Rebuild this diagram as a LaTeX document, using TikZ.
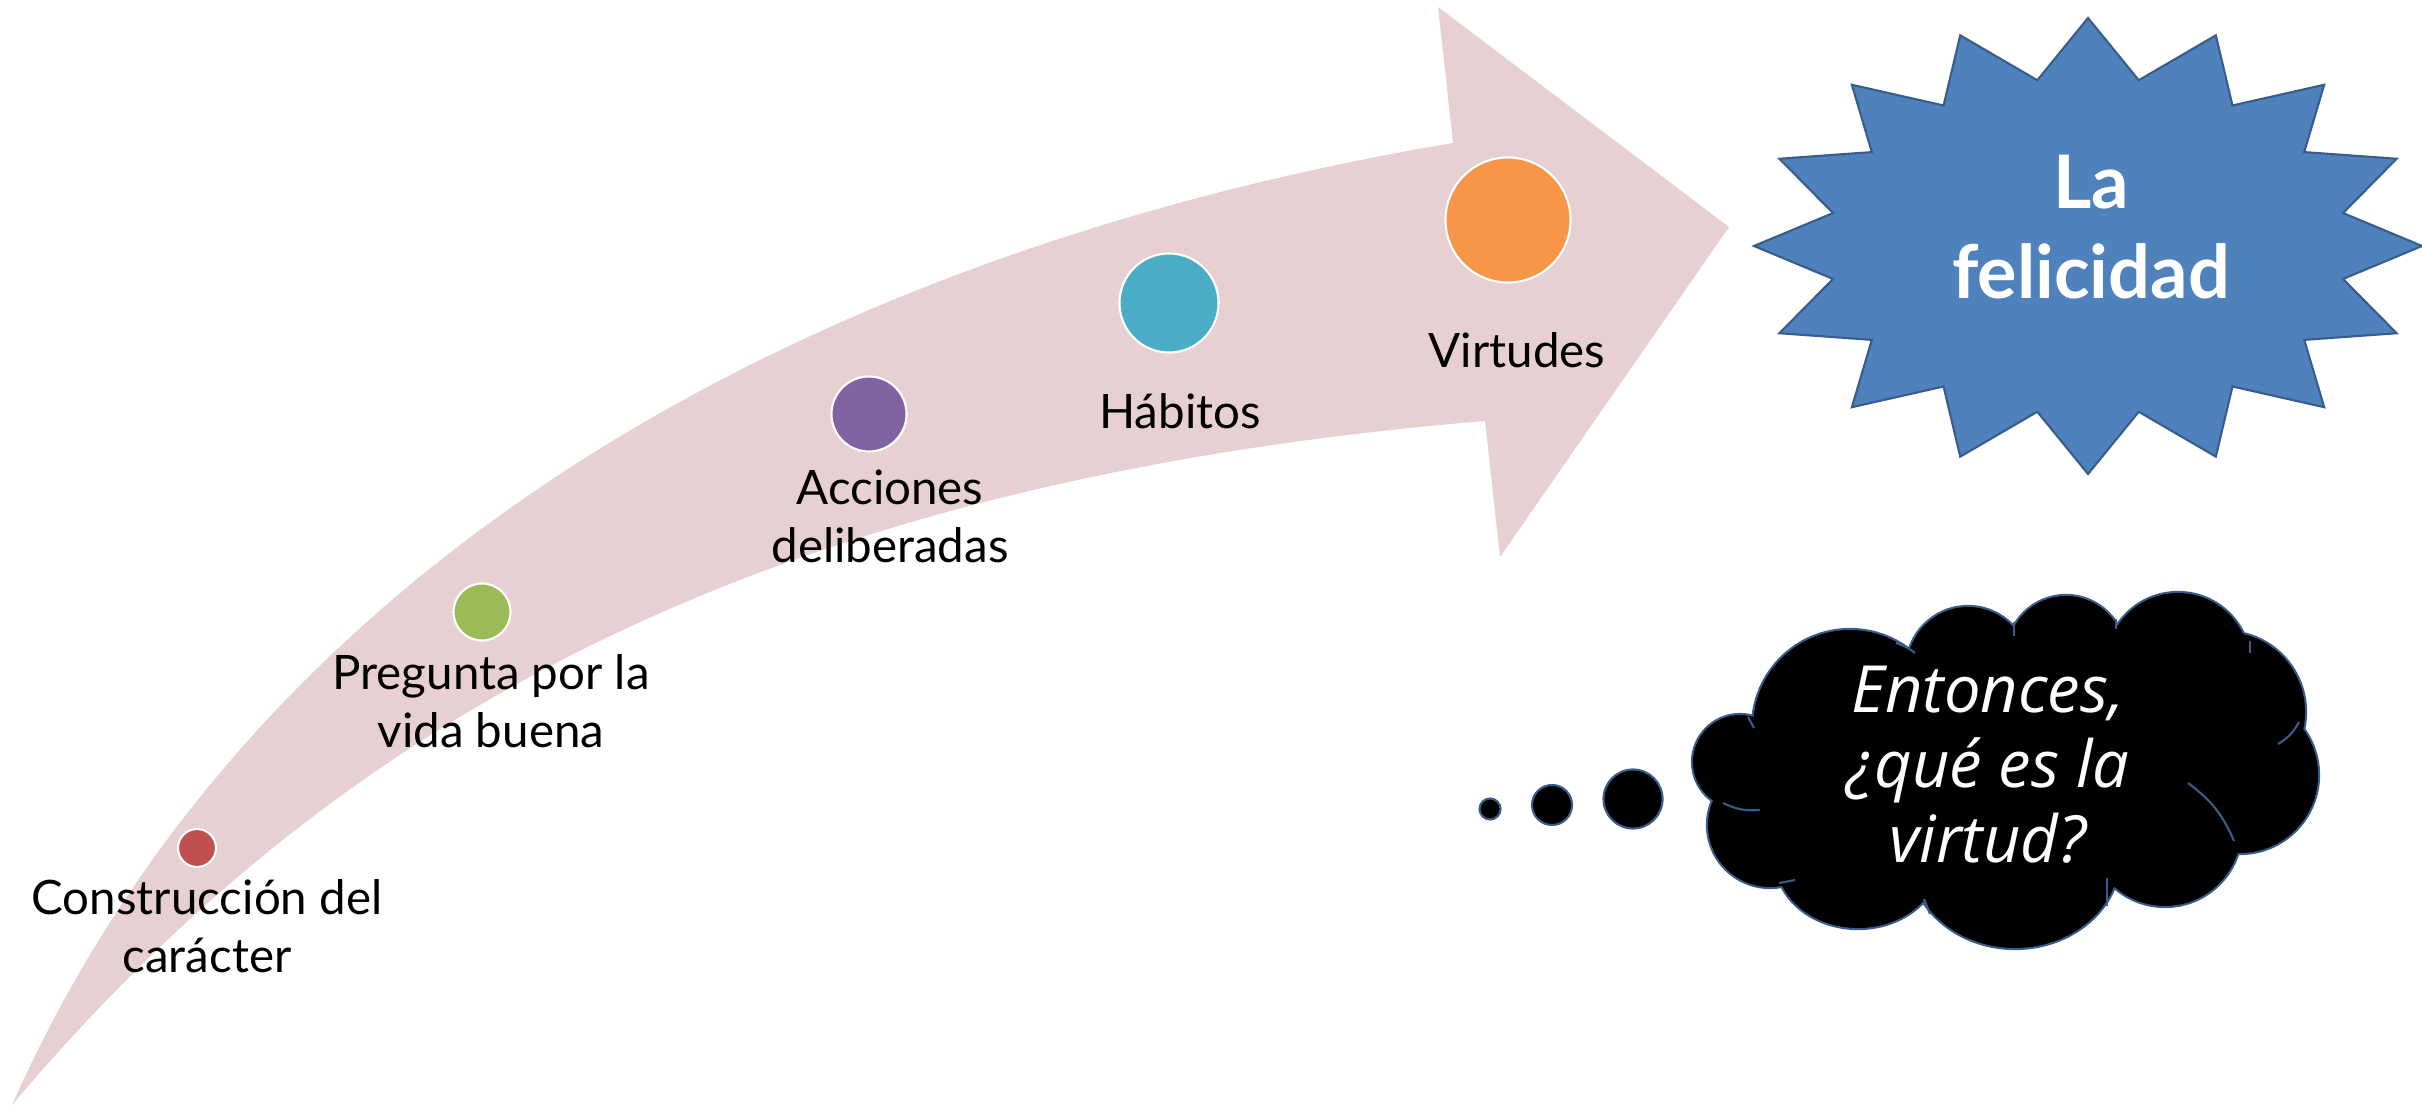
\documentclass[tikz,border=0pt]{standalone}
\usepackage{fontspec}
\setmainfont{Lato}
\newfontfamily\cloudfont{Open Sans}
\usepackage{xcolor}
\usetikzlibrary{positioning,shapes}
\definecolor{arrowpink}{RGB}{230,208,209}
\definecolor{dotred}{RGB}{192,80,77}
\definecolor{dotgreen}{RGB}{155,187,89}
\definecolor{dotpurple}{RGB}{128,100,162}
\definecolor{dotteal}{RGB}{75,172,198}
\definecolor{dotorange}{RGB}{247,150,70}
\definecolor{starblue}{RGB}{79,129,189}
\definecolor{edgeblue}{RGB}{56,93,138}

\begin{document}
\begin{tikzpicture}[x=0.01cm, y=-0.01cm]
    % Define styles
    \tikzstyle{dot} = [circle, draw=white, line width=0.6pt, inner sep=0pt]
    \tikzstyle{stage} = [align=center, inner sep=0pt, text=black, font=\fontsize{13.5}{16.5}\selectfont]
    \tikzstyle{puff} = [draw=edgeblue, line width=1.2pt, fill=black]
    \tikzstyle{bubble} = [circle, draw=edgeblue, line width=0.6pt, fill=black, inner sep=0pt]
    \tikzstyle{stub} = [draw=edgeblue, line width=0.6pt]

    \useasboundingbox (0,0) rectangle (2422,1107);

    % Curved arrow
    \fill[arrowpink] (12,1105) .. controls (264,538) and (842,246) .. (1453,143)
        -- (1438,7) -- (1729,227) -- (1500,557) -- (1485,421)
        .. controls (737,483) and (322,738) .. (12,1105) -- cycle;

    % Dots on the arrow
    \node[dot, fill=dotred, minimum size=0.38cm] (caracterdot) at (197,848) {};
    \node[dot, fill=dotgreen, minimum size=0.57cm] (preguntadot) at (482,612) {};
    \node[dot, fill=dotpurple, minimum size=0.75cm] (accionesdot) at (869,414) {};
    \node[dot, fill=dotteal, minimum size=0.99cm] (habitosdot) at (1169,303) {};
    \node[dot, fill=dotorange, minimum size=1.25cm] (virtudesdot) at (1508,220) {};

    % Labels
    \node[stage] (caracter) at (207,926) {Construcción del\\carácter};
    \node[stage] (pregunta) at (491,701) {Pregunta por la\\vida buena};
    \node[stage] (acciones) at (890,516) {Acciones\\deliberadas};
    \node[stage] (habitos) at (1180,411) {Hábitos};
    \node[stage] (virtudes) at (1517,350) {Virtudes};

    % Star
    \draw[fill=starblue, draw=edgeblue, line width=0.6pt] plot[samples at={0,...,31}, variable=\k]
        ({2088+(297+37*cos(180*\k))*cos(90-11.25*\k)}, {246-(198.5+29.5*cos(180*\k))*sin(90-11.25*\k)}) -- cycle;
    \node[align=center, inner sep=0pt, text=white, font=\bfseries\fontsize{21}{25.6}\selectfont] (felicidad) at (2091,227) {La\\felicidad};

    % Thought cloud
    \foreach \cx/\cy/\rx/\ry in {1740/762/47/47, 1850/727/97/97, 1968/668/61/61, 2066/655/59/59, 2178/665/72/72, 2225/712/80/80, 2240/775/78/78, 2165/830/76/76, 2015/856/105/92, 1858/860/82/68, 1770/825/62/62}
        \draw[puff] (\cx,\cy) ellipse[x radius=\rx, y radius=\ry];
    \foreach \cx/\cy/\rx/\ry in {1740/762/47/47, 1850/727/97/97, 1968/668/61/61, 2066/655/59/59, 2178/665/72/72, 2225/712/80/80, 2240/775/78/78, 2165/830/76/76, 2015/856/105/92, 1858/860/82/68, 1770/825/62/62, 2010/765/230/130}
        \fill[black] (\cx,\cy) ellipse[x radius=\rx, y radius=\ry];
    \coordinate (s1a) at (1748,717); \coordinate (s1b) at (1754,728);
    \coordinate (s2a) at (1723,803); \coordinate (s2b) at (1760,810);
    \coordinate (s3a) at (1896,643); \coordinate (s3b) at (1915,653);
    \coordinate (s4a) at (2014,622); \coordinate (s4b) at (2014,636);
    \coordinate (s5a) at (2116,619); \coordinate (s5b) at (2116,629);
    \coordinate (s6a) at (2250,641); \coordinate (s6b) at (2250,653);
    \coordinate (s7a) at (2299,722); \coordinate (s7b) at (2278,744);
    \coordinate (s8a) at (2188,783); \coordinate (s8b) at (2234,841);
    \coordinate (s9a) at (2107,878); \coordinate (s9b) at (2107,906);
    \coordinate (s10a) at (1924,899); \coordinate (s10b) at (1930,914);
    \coordinate (s11a) at (1779,883); \coordinate (s11b) at (1795,880);
    \draw[stub] (s1a) -- (s1b);
    \draw[stub] (s2a) to[bend right=15] (s2b);
    \draw[stub] (s3a) to[bend left=10] (s3b);
    \draw[stub] (s4a) -- (s4b);
    \draw[stub] (s5a) -- (s5b);
    \draw[stub] (s6a) -- (s6b);
    \draw[stub] (s7a) to[bend left=15] (s7b);
    \draw[stub] (s8a) to[bend left=15] (s8b);
    \draw[stub] (s9a) -- (s9b);
    \draw[stub] (s10a) -- (s10b);
    \draw[stub] (s11a) -- (s11b);

    \node[bubble, minimum size=0.21cm] (bubblea) at (1490,809) {};
    \node[bubble, minimum size=0.40cm] (bubbleb) at (1552,805) {};
    \node[bubble, minimum size=0.59cm] (bubblec) at (1633,799) {};

    \node[align=center, inner sep=0pt, text=white, font=\cloudfont\itshape\fontsize{18.5}{21.3}\selectfont] (virtud) at (1988,765) {Entonces,\\¿qué es la\\virtud?};
\end{tikzpicture}
\end{document}
